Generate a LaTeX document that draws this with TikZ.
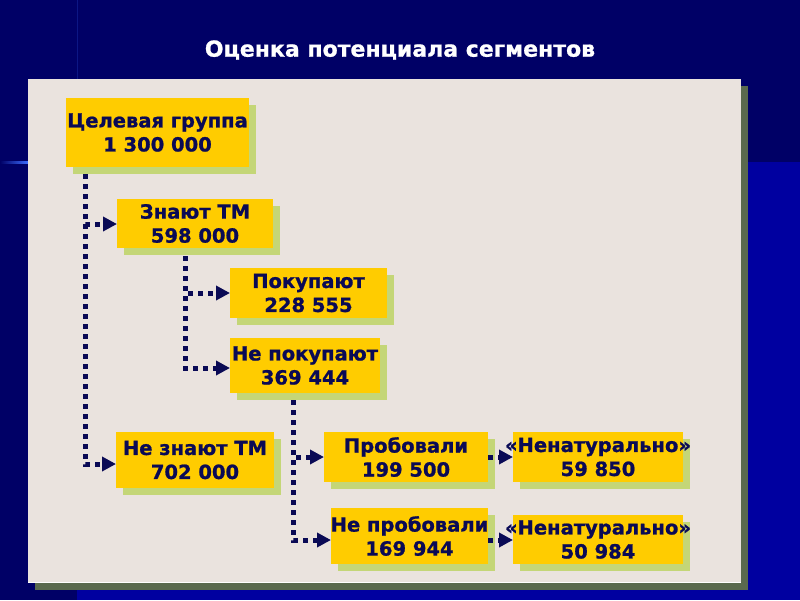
\documentclass[tikz,border=0pt]{standalone}
\usepackage{fontspec}
\setmainfont{DejaVu Sans}[BoldFeatures={FakeBold=1}]
\usetikzlibrary{arrows.meta}
\definecolor{navybg}{HTML}{000066}
\definecolor{bluebg}{HTML}{0000A0}
\definecolor{glow}{HTML}{3C6CFF}
\definecolor{panel}{HTML}{EAE3DE}
\definecolor{panelsh}{HTML}{5A6A4E}
\definecolor{boxy}{HTML}{FFCC00}
\definecolor{boxsh}{HTML}{C4D677}
\definecolor{ink}{HTML}{0A0A55}
\newcommand\segbox[6]{%
  \fill[boxsh] (#2-#4/2+7,#3-#5/2+7) rectangle ++(#4,#5);
  \node[segfill, minimum width=#4pt, minimum height=#5pt] (#1) at (#2,#3) {};
  \node[segtext] (#1t) at (#1.center) {#6};
}
\begin{document}
\begin{tikzpicture}[x=1pt,y=-1pt,
  segfill/.style={fill=boxy, inner sep=0pt, outer sep=0pt},
  segtext/.style={inner sep=0pt, font=\bfseries\fontsize{19.5}{24}\selectfont, text=ink, align=center},
  conn/.style={draw=ink, line width=5pt, dash pattern=on 5pt off 5pt, -{Triangle[length=14pt,width=14pt]}},
  titletext/.style={font=\bfseries\fontsize{22}{26}\selectfont, text=white}
]
\useasboundingbox (0,0) rectangle (800,600);
% background
\fill[navybg] (0,0) rectangle (800,600);
\fill[bluebg] (77,162) rectangle (800,600);
\fill[left color=navybg, right color=glow] (0,161) rectangle (28,163);
\fill[navybg!80!glow] (76.5,0) rectangle (77.5,79);
% panel
\fill[panelsh] (35,86) rectangle (748,590);
\fill[panel] (28,79) rectangle (741,583);
\draw[white, line width=1pt] (28,582.5) -- (741,582.5);
% title
\node[titletext] (title) at (400,50) {Оценка потенциала сегментов};
% connector trunks (start points)
\coordinate (t1) at (85,174);
\coordinate (t2) at (185,256);
\coordinate (t3) at (293,400);
% boxes
\segbox{b1}{157.5}{132.5}{183}{69}{Целевая группа\\1 300 000}
\segbox{b2}{195}{223.5}{156}{49}{Знают ТМ\\598 000}
\segbox{b3}{308.5}{293}{157}{50}{Покупают\\228 555}
\segbox{b4}{305}{365.5}{150}{55}{Не покупают\\369 444}
\segbox{b5}{195}{460}{158}{56}{Не знают ТМ\\702 000}
\segbox{b6}{406}{457}{164}{50}{Пробовали\\199 500}
\segbox{b7}{409.5}{536}{157}{56}{Не пробовали\\169 944}
\segbox{b8}{598}{457}{170}{50}{«Ненатурально»\\59 850}
\segbox{b9}{598}{539.5}{170}{49}{«Ненатурально»\\50 984}
% connectors
\draw[conn] (t1) |- (b2.west |- 0,224);
\draw[conn] (t1) |- (b5.west |- 0,464);
\draw[conn] (t2) |- (b3.west |- 0,293);
\draw[conn] (t2) |- (b4.west |- 0,368);
\draw[conn] (t3) |- (b6.west |- 0,457);
\draw[conn] (t3) |- (b7.west |- 0,540);
\draw[conn] (b6.east |- 0,457) -- (b8.west |- 0,457);
\draw[conn] (b7.east |- 0,540) -- (b9.west |- 0,540);
\end{tikzpicture}
\end{document}
